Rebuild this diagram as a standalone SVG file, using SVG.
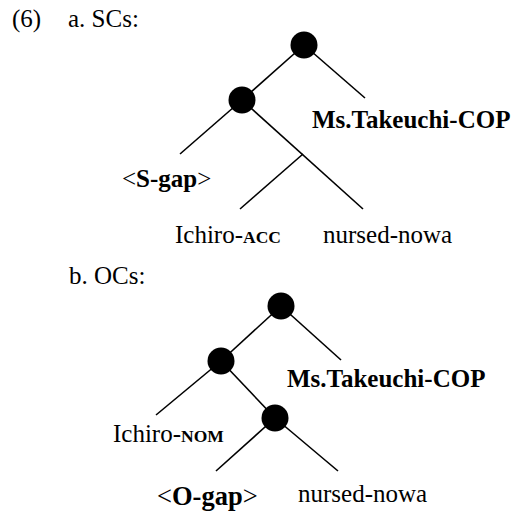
<svg xmlns="http://www.w3.org/2000/svg" width="515" height="514" viewBox="0 0 515 514">
<style>
text{font-family:"Liberation Serif","Times New Roman",serif;font-size:25px;fill:#000}
.b{font-weight:bold}
.sc{font-size:17.5px;font-weight:bold}
.g{font-size:26.5px}
.e{stroke:#000;stroke-width:1.6;fill:none}
.n{fill:#000}
</style>
<rect width="515" height="514" fill="#fff"/>
<text x="12" y="27">(6)</text>
<text x="68" y="27">a. SCs:</text>
<g id="edges">
<line class="e" x1="304" y1="45" x2="365" y2="98"/>
<line class="e" x1="304" y1="45" x2="242" y2="100"/>
<line class="e" x1="242" y1="100" x2="180" y2="154"/>
<line class="e" x1="242" y1="100" x2="363" y2="209"/>
<line class="e" x1="303" y1="154" x2="240" y2="209"/>
<line class="e" x1="281" y1="306" x2="341" y2="360"/>
<line class="e" x1="281" y1="306" x2="221" y2="361"/>
<line class="e" x1="221" y1="361" x2="156" y2="415"/>
<line class="e" x1="221" y1="361" x2="275" y2="418"/>
<line class="e" x1="275" y1="418" x2="216" y2="471"/>
<line class="e" x1="275" y1="418" x2="338" y2="471"/>
</g>
<g id="a1"><circle class="n" cx="304" cy="45" r="13.5"/></g>
<g id="a2"><circle class="n" cx="242" cy="100" r="13.5"/></g>
<g id="a-cop"><text class="b" x="312" y="128">Ms.Takeuchi-COP</text></g>
<g id="a-gap"><text x="122" y="187">&lt;<tspan class="b">S-gap</tspan>&gt;</text></g>
<g id="a-ichiro"><text x="175" y="243">Ichiro-<tspan class="sc">ACC</tspan></text></g>
<g id="a-nursed"><text x="323" y="243">nursed-nowa</text></g>
<text x="69" y="284">b. OCs:</text>
<g id="b1"><circle class="n" cx="281" cy="306" r="13.5"/></g>
<g id="b2"><circle class="n" cx="221" cy="361" r="13.5"/></g>
<g id="b3"><circle class="n" cx="275" cy="418" r="13.5"/></g>
<g id="b-cop"><text class="b" x="287" y="387">Ms.Takeuchi-COP</text></g>
<g id="b-ichiro"><text x="113" y="442">Ichiro-<tspan class="sc">NOM</tspan></text></g>
<g id="b-gap"><text class="g" x="157" y="505">&lt;<tspan class="b">O-gap</tspan>&gt;</text></g>
<g id="b-nursed"><text x="298" y="502">nursed-nowa</text></g>
</svg>
